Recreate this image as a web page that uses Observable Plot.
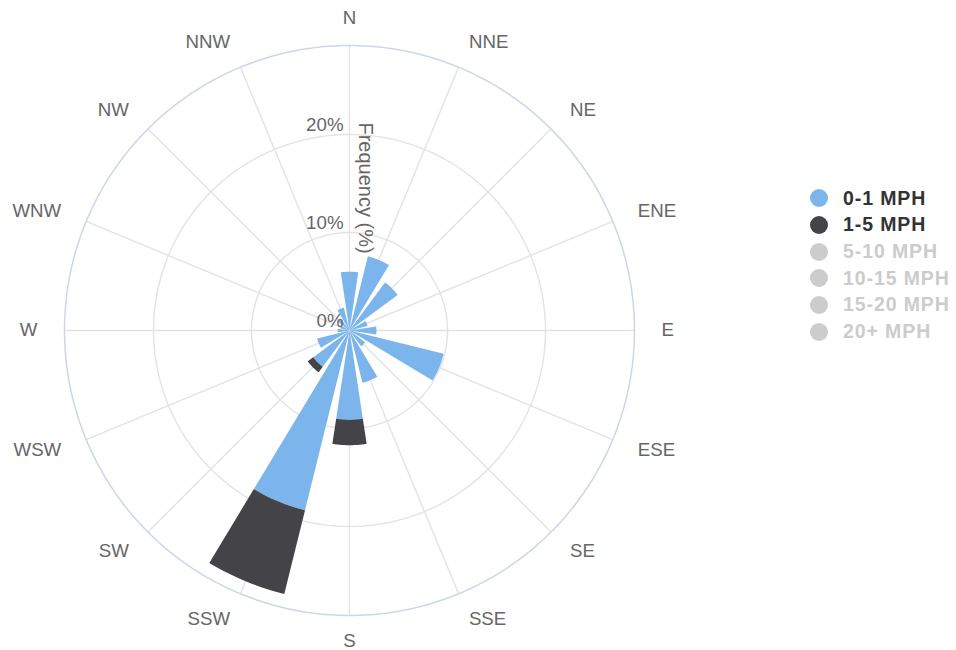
<!DOCTYPE html>
<html>
<head>
<meta charset="utf-8">
<script src="https://cdn.jsdelivr.net/npm/d3@7"></script>
<script src="https://cdn.jsdelivr.net/npm/@observablehq/plot@0.6"></script>
<style>
  html, body { margin: 0; padding: 0; background: #fff; }
  #wrap { position: relative; width: 956px; height: 650px; font-family: "Liberation Sans", Arial, Helvetica, sans-serif; }
  #legend { position: absolute; left: 810px; top: 184.8px; }
  .item { display: flex; align-items: center; height: 26.7px; font-weight: bold; font-size: 19.5px; letter-spacing: 0.9px; white-space: nowrap; }
  .sym { width: 18px; height: 18px; border-radius: 50%; margin-right: 15px; flex: none; }
</style>
</head>
<body>
<div id="wrap"><div id="chart"></div><div id="legend"></div></div>
<script>
// ---- data ----
const directions = ["N","NNE","NE","ENE","E","ESE","SE","SSE","S","SSW","SW","WSW","W","WNW","NW","NNW"];
const speed0to1 = [6.0, 7.8, 6.1, 1.9, 2.75, 9.9, 2.0, 5.5, 9.1, 18.9, 4.6, 3.4, 1.2, 1.0, 1.5, 2.4];
const speed1to5 = [0, 0, 0, 0, 0, 0, 0, 0, 2.6, 8.8, 0.7, 0, 0, 0, 0, 0];
const seriesNames = ["0-1 MPH", "1-5 MPH", "5-10 MPH", "10-15 MPH", "15-20 MPH", "20+ MPH"];
const seriesVisible = [true, true, false, false, false, false];
const seriesColors = ["#7cb5ec", "#434348", "#cccccc", "#cccccc", "#cccccc", "#cccccc"];
const radialTicks = [0, 10, 20];
const axisTitle = "Frequency (%)";

// ---- layout ----
const W = 956, H = 650, CX = 349, CY = 330, RPX = 285;
const pxPerUnit = 9.8;              // pixels per 1 %
const RMAX = RPX / pxPerUnit;       // outer edge in %
const LABEL_R = 312 / pxPerUnit;    // direction label radius in %
const halfWidth = 8.6 * Math.PI / 180;
const step = 2 * Math.PI / directions.length;

const rad = i => i * step;
const px = (r, a) => r * Math.sin(a);
const py = (r, a) => r * Math.cos(a);

// stacked sector polygons
const stacks = [speed0to1, speed1to5];
const sectorPts = stacks.map(() => []);
directions.forEach((d, i) => {
  let base = 0;
  stacks.forEach((vals, s) => {
    const v = vals[i];
    if (v > 0) {
      const r0 = base, r1 = base + v, a = rad(i), id = d + s;
      const n = 14;
      for (let k = 0; k <= n; k++) {
        const t = a - halfWidth + (2 * halfWidth) * k / n;
        sectorPts[s].push({id, x: px(r1, t), y: py(r1, t)});
      }
      if (r0 > 0) {
        for (let k = n; k >= 0; k--) {
          const t = a - halfWidth + (2 * halfWidth) * k / n;
          sectorPts[s].push({id, x: px(r0, t), y: py(r0, t)});
        }
      } else {
        sectorPts[s].push({id, x: 0, y: 0});
      }
    }
    base += v;
  });
});

// rings
const ringPts = [];
radialTicks.filter(t => t > 0).forEach(t => {
  for (let k = 0; k < 180; k++) {
    const a = k * 2 * Math.PI / 180;
    ringPts.push({ring: t, x: px(t, a), y: py(t, a)});
  }
});
const outerPts = d3.range(0, 360, 1).map(k => ({x: px(RMAX, k * Math.PI / 180), y: py(RMAX, k * Math.PI / 180)}));

const dirData = directions.map((d, i) => ({d, a: rad(i)}));
const eastSide = dirData.filter(o => Math.sin(o.a) > 1e-6);
const westSide = dirData.filter(o => Math.sin(o.a) < -1e-6);
const northSide = dirData.filter(o => Math.abs(Math.sin(o.a)) <= 1e-6 && Math.cos(o.a) > 0);
const southSide = dirData.filter(o => Math.abs(Math.sin(o.a)) <= 1e-6 && Math.cos(o.a) < 0);

const font = {fontSize: 18.7, fill: "#666666"};
const lx = o => px(LABEL_R, o.a), ly = o => py(LABEL_R, o.a);

const chart = Plot.plot({
  width: W, height: H,
  margin: 0,
  style: {fontFamily: '"Liberation Sans", Arial, Helvetica, sans-serif', background: "transparent"},
  x: {domain: [-CX / pxPerUnit, (W - CX) / pxPerUnit], axis: null},
  y: {domain: [-(H - CY) / pxPerUnit, CY / pxPerUnit], axis: null},
  marks: [
    Plot.line(ringPts, {x: "x", y: "y", z: "ring", stroke: "#e3e3e3", strokeWidth: 1.4, curve: "linear-closed"}),
    Plot.link(dirData, {x1: 0, y1: 0, x2: o => px(RMAX, o.a), y2: o => py(RMAX, o.a), stroke: "#e3e3e3", strokeWidth: 1.4}),
    Plot.line(outerPts, {x: "x", y: "y", stroke: "#ccd6eb", strokeWidth: 1.5, curve: "linear-closed"}),
    ...sectorPts.map((pts, s) => Plot.line(pts, {x: "x", y: "y", z: "id", fill: seriesColors[s], stroke: "none", curve: "linear-closed"})),
    Plot.text(eastSide, {x: lx, y: ly, text: "d", textAnchor: "start", lineAnchor: "middle", ...font}),
    Plot.text(westSide, {x: lx, y: ly, text: "d", textAnchor: "end", lineAnchor: "middle", ...font}),
    Plot.text(northSide, {x: lx, y: ly, text: "d", textAnchor: "middle", lineAnchor: "middle", ...font}),
    Plot.text(southSide, {x: lx, y: ly, text: "d", textAnchor: "middle", lineAnchor: "middle", dy: -1.5, ...font}),
    Plot.text(radialTicks, {x: 0, y: t => t, text: t => t + "%", textAnchor: "end", lineAnchor: "middle", dx: -6, dy: -9.5, ...font}),
    Plot.text([axisTitle], {x: 0, y: RMAX / 2, text: d => d, rotate: 90, lineAnchor: "middle", textAnchor: "middle", dx: 15.5, fontSize: 20, fill: "#666666"})
  ]
});
document.getElementById("chart").appendChild(chart);

// legend
const legend = document.getElementById("legend");
seriesNames.forEach((name, i) => {
  const item = document.createElement("div");
  item.className = "item";
  item.style.color = seriesVisible[i] ? "#333333" : "#cccccc";
  const sym = document.createElement("span");
  sym.className = "sym";
  sym.style.background = seriesColors[i];
  item.appendChild(sym);
  item.appendChild(document.createTextNode(name));
  legend.appendChild(item);
});
</script>
</body>
</html>
